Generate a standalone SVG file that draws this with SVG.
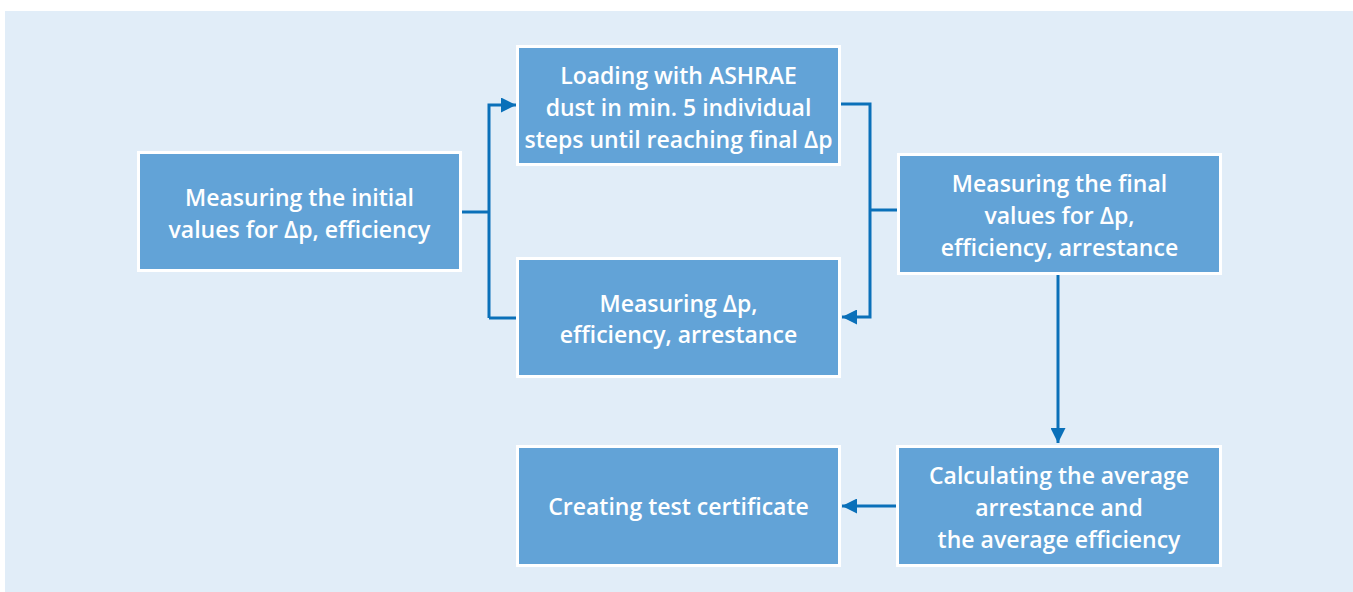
<svg xmlns="http://www.w3.org/2000/svg" width="1353" height="592" viewBox="0 0 1353 592">
<defs>
<style>
.box{fill:#62a3d7;stroke:#ffffff;stroke-width:3}
.lbl{fill:#ffffff;font-family:"Open Sans","Liberation Sans",sans-serif;font-weight:600;font-size:23px;text-anchor:middle}
.con{fill:none;stroke:#0a70b9;stroke-width:3}
</style>
<marker id="ah" viewBox="0 0 10 10" refX="10" refY="5" markerWidth="17" markerHeight="15" markerUnits="userSpaceOnUse" orient="auto">
<path d="M0,0 L10,5 L0,10 Z" fill="#0a70b9"/>
</marker>
</defs>
<rect x="5" y="11" width="1348" height="581" fill="#e1edf8"/>
<g id="connectors">
<path class="con" d="M462,212 H489"/>
<path class="con" d="M489,318 V105 H516" marker-end="url(#ah)"/>
<path class="con" d="M489,318 H516"/>
<path class="con" d="M841,104 H870 V317 H842" marker-end="url(#ah)"/>
<path class="con" d="M897,210 H870"/>
<path class="con" d="M1058,275 V443" marker-end="url(#ah)"/>
<path class="con" d="M896,506 H842" marker-end="url(#ah)"/>
</g>
<g id="node1">
<rect class="box" x="138.5" y="152.5" width="322" height="118"/>
<text class="lbl" x="299.5" y="206">Measuring the initial</text>
<text class="lbl" x="299.5" y="238">values for Δp, efficiency</text>
</g>
<g id="node2">
<rect class="box" x="517.5" y="46.5" width="322" height="118"/>
<text class="lbl" x="678.5" y="84">Loading with ASHRAE</text>
<text class="lbl" x="678.5" y="116">dust in min. 5 individual</text>
<text class="lbl" x="678.5" y="148">steps until reaching final Δp</text>
</g>
<g id="node3">
<rect class="box" x="517.5" y="258.5" width="322" height="118"/>
<text class="lbl" x="678.5" y="312">Measuring Δp,</text>
<text class="lbl" x="678.5" y="343">efficiency, arrestance</text>
</g>
<g id="node4">
<rect class="box" x="898.5" y="154.5" width="322" height="119"/>
<text class="lbl" x="1059.5" y="192">Measuring the final</text>
<text class="lbl" x="1059.5" y="224">values for Δp,</text>
<text class="lbl" x="1059.5" y="256">efficiency, arrestance</text>
</g>
<g id="node5">
<rect class="box" x="897.5" y="446.5" width="323" height="119"/>
<text class="lbl" x="1059" y="484">Calculating the average</text>
<text class="lbl" x="1059" y="516">arrestance and</text>
<text class="lbl" x="1059" y="548">the average efficiency</text>
</g>
<g id="node6">
<rect class="box" x="517.5" y="446.5" width="322" height="119"/>
<text class="lbl" x="678.5" y="515">Creating test certificate</text>
</g>
</svg>
